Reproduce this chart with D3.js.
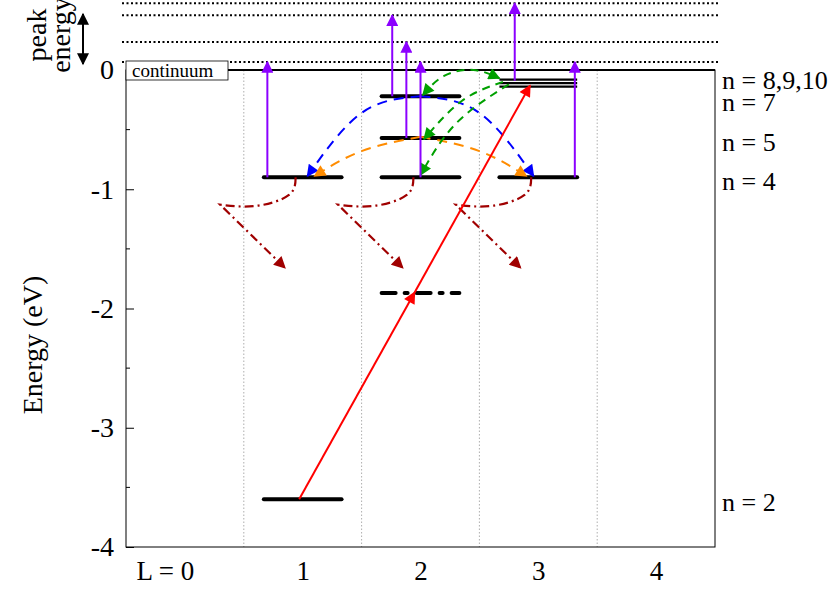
<!DOCTYPE html><html><head><meta charset="utf-8"><script src="https://cdn.jsdelivr.net/npm/d3@7"></script>
<style>body{margin:0;background:#fff}text{font-family:"Liberation Serif","Times New Roman",serif}</style></head><body>
<svg id="c" width="830" height="594"></svg>
<script>
const categories=["L = 0","1","2","3","4"];
const yTicks=[0,-1,-2,-3,-4];
const levels=[ // [L, E]
 [1,-3.6],[1,-0.9],[2,-0.9],[3,-0.9],[2,-0.57],[2,-0.22]];
const thinLevels=[[3,-0.08],[3,-0.11],[3,-0.14]];
const dashLevel=[[2,-1.87]];
const nLabels=[["n = 8,9,10",-0.08],["n = 7",-0.27],["n = 5",-0.6],["n = 4",-0.93],["n = 2",-3.62]];
const continuumLines=[0.067,0.235,0.46,0.56];
const ionArrows=[[0.7,-0.9,0.067],[1.76,-0.22,0.46],[1.88,-0.57,0.235],[2.0,-0.9,0.067],[2.8,-0.09,0.56],[3.31,-0.9,0.067]];
const redLine=[[0.97,-3.6],[2.93,-0.13]];
const decayOffsets=[[-0.06,-0.9],[-0.12,-1.05],[-0.4,-1.14],[-0.70,-1.13]];
const decayEnd=[-0.15,-1.66];
const blueArcs=[[[2,-0.22],[1.5,-0.36],[1.04,-0.89]],[[2,-0.22],[2.5,-0.36],[2.96,-0.89]]];
const orangeArcs=[[[2,-0.56],[1.5,-0.68],[1.1,-0.89]],[[2,-0.56],[2.5,-0.68],[2.9,-0.89]]];
const greenArcs=[[[2.02,-0.21],[2.2,-0.05],[2.45,0.0],[2.67,-0.07]],[[2.7,-0.1],[2.35,-0.26],[2.03,-0.58]],[[2.75,-0.12],[2.3,-0.45],[2.0,-0.88]]];

const svg=d3.select("#c");
const x=d3.scaleLinear().domain([-0.5,4.5]).range([126,715]);
const y=d3.scaleLinear().domain([-4,0]).range([547,70]);
const defs=svg.append("defs");
function mk(id,c){defs.append("marker").attr("id",id).attr("viewBox","0 0 10 10").attr("refX",9).attr("refY",5)
 .attr("markerWidth",14).attr("markerHeight",12).attr("markerUnits","userSpaceOnUse").attr("orient","auto-start-reverse")
 .append("path").attr("d","M0,0L10,5L0,10z").attr("fill",c);}
mk("pu","#8b00ff");mk("bl","#0000ff");mk("or","#ff8c00");mk("gr","#00a000");mk("rd","#ff0000");mk("dr","#a00000");mk("bk","#000");
const g=svg.append("g");
[0.5,1.5,2.5,3.5].forEach(v=>g.append("line").attr("x1",x(v)).attr("x2",x(v)).attr("y1",y(0)).attr("y2",y(-4)).attr("stroke","#999").attr("stroke-dasharray","1.5,2").attr("stroke-width",0.8));
const ya=d3.axisLeft(y).tickValues(yTicks).tickSize(-8).tickPadding(12).tickFormat(d=>String(d));
const yg=g.append("g").attr("transform",`translate(${x(-0.5)},0)`).call(ya);
yg.select(".domain").remove();
yg.selectAll("text").style("font-size","28px").style("font-family","Liberation Serif");
[-0.5,-1.5,-2.5,-3.5].forEach(v=>g.append("line").attr("x1",126).attr("x2",130).attr("y1",y(v)).attr("y2",y(v)).attr("stroke","#000"));
g.append("rect").attr("x",126).attr("y",70).attr("width",589).attr("height",477).attr("fill","none").attr("stroke","#000").attr("stroke-width",1);
g.append("line").attr("x1",126).attr("x2",715).attr("y1",y(0)).attr("y2",y(0)).attr("stroke","#000").attr("stroke-width",2);
const xa=d3.axisBottom(x).tickValues([0,1,2,3,4]).tickSize(0).tickPadding(14).tickFormat((d,i)=>categories[i]);
const xg=g.append("g").attr("transform","translate(0,547)").call(xa);xg.select(".domain").remove();
xg.selectAll("text").style("font-size","27px").style("font-family","Liberation Serif").attr("dx",(d,i)=>i===0?-20:0);
continuumLines.forEach(e=>g.append("line").attr("x1",122).attr("x2",720).attr("y1",y(e)).attr("y2",y(e)).attr("stroke","#000").attr("stroke-width",2).attr("stroke-dasharray","2,2.5"));
g.append("rect").attr("x",126).attr("y",61).attr("width",102).attr("height",19).attr("fill","#fff").attr("stroke","#000").attr("stroke-width",0.8);
g.append("text").attr("x",132).attr("y",77).style("font-size","19px").text("continuum");
const hw=0.33;
levels.forEach(([L,E])=>g.append("line").attr("x1",x(L-hw)).attr("x2",x(L+hw)).attr("y1",y(E)).attr("y2",y(E)).attr("stroke","#000").attr("stroke-width",4).attr("stroke-linecap","round"));
thinLevels.forEach(([L,E])=>g.append("line").attr("x1",x(L-hw)).attr("x2",x(L+hw)).attr("y1",y(E)).attr("y2",y(E)).attr("stroke","#000").attr("stroke-width",2.2));
dashLevel.forEach(([L,E])=>g.append("line").attr("x1",x(L-hw)).attr("x2",x(L+hw)).attr("y1",y(E)).attr("y2",y(E)).attr("stroke","#000").attr("stroke-width",4).attr("stroke-dasharray","14,9,3,9").attr("stroke-linecap","round"));
nLabels.forEach(([t,E])=>g.append("text").attr("x",722).attr("y",y(E)+9).style("font-size","26px").text(t));
const line=d3.line().x(d=>x(d[0])).y(d=>y(d[1])).curve(d3.curveNatural);
function arc(pts,c,m,dash,both){const p=g.append("path").attr("d",line(pts)).attr("fill","none").attr("stroke",c).attr("stroke-width",2).attr("stroke-dasharray",dash).attr("marker-end",`url(#${m})`);if(both)p.attr("marker-start",`url(#${m})`);}
blueArcs.forEach(p=>arc(p,"#0000ff","bl","10,7"));
orangeArcs.forEach(p=>arc(p,"#ff8c00","or","10,7"));
greenArcs.forEach((p,i)=>arc(p,"#00a000","gr","8,6",i===0));
[1,2,3].forEach(L=>{
 const pts=decayOffsets.map(o=>[L+o[0],o[1]]);
 const d=line(pts)+"L"+x(L+decayEnd[0])+","+y(decayEnd[1]);
 g.append("path").attr("d",d).attr("fill","none").attr("stroke","#a00000").attr("stroke-width",2.2).attr("stroke-dasharray","9,4,2,4").attr("marker-end","url(#dr)");
});
const [a,b]=redLine;const mid=[(a[0]+b[0])/2,(a[1]+b[1])/2];
g.append("line").attr("x1",x(a[0])).attr("y1",y(a[1])).attr("x2",x(mid[0])).attr("y2",y(mid[1])).attr("stroke","#f00").attr("stroke-width",2).attr("marker-end","url(#rd)");
g.append("line").attr("x1",x(mid[0])).attr("y1",y(mid[1])).attr("x2",x(b[0])).attr("y2",y(b[1])).attr("stroke","#f00").attr("stroke-width",2).attr("marker-end","url(#rd)");
ionArrows.forEach(([L,E0,E1])=>g.append("line").attr("x1",x(L)).attr("x2",x(L)).attr("y1",y(E0)).attr("y2",y(E1)).attr("stroke","#8b00ff").attr("stroke-width",2).attr("marker-end","url(#pu)"));
g.append("line").attr("x1",83).attr("x2",83).attr("y1",y(0.47)).attr("y2",y(0.05)).attr("stroke","#000").attr("stroke-width",2).attr("marker-end","url(#bk)").attr("marker-start","url(#bk)");
g.append("text").attr("transform","translate(46,35) rotate(-90)").attr("text-anchor","middle").style("font-size","28px").text("peak");
g.append("text").attr("transform","translate(70,35) rotate(-90)").attr("text-anchor","middle").style("font-size","28px").text("energy");
g.append("text").attr("transform","translate(42,345) rotate(-90)").attr("text-anchor","middle").style("font-size","28px").text("Energy (eV)");
</script></body></html>
